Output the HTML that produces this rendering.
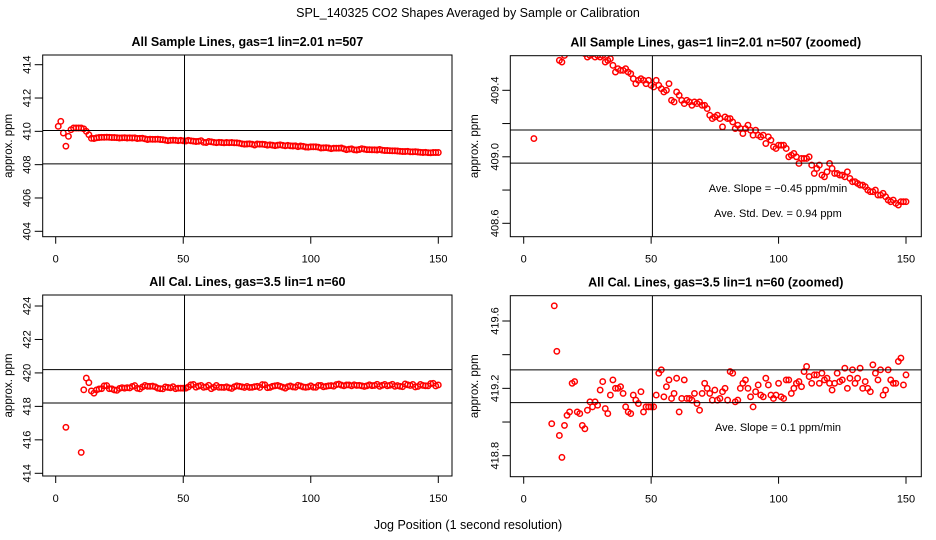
<!DOCTYPE html>
<html><head><meta charset="utf-8"><style>
html,body{margin:0;padding:0;background:#fff;width:936px;height:540px;overflow:hidden;}
svg{display:block;font-family:"Liberation Sans",Arial,sans-serif;}
</style></head><body>
<svg id="chart" width="936" height="540" viewBox="0 0 936 540" xmlns="http://www.w3.org/2000/svg">
<text x="468" y="17" text-anchor="middle" font-size="12.5">SPL_140325  CO2 Shapes Averaged by Sample or Calibration</text>
<text x="468" y="529" text-anchor="middle" font-size="12.5">Jog Position (1 second resolution)</text>
</svg>
<script>
const positions = Array.from({length:150},(_,i)=>i+1);
const sampleValues = [410.3,410.6,409.9,409.11,409.7,410.1,410.2,410.2,410.2,410.2,410.15,410.0,409.8,409.58,409.57,409.61,409.63,409.64,409.64,409.65,409.64,409.63,409.63,409.62,409.60,409.61,409.62,409.60,409.61,409.60,409.61,409.57,409.58,409.59,409.55,409.51,409.53,409.52,409.52,409.53,409.51,409.50,409.47,409.44,409.46,409.47,409.46,409.44,409.46,409.43,409.42,409.46,409.43,409.41,409.39,409.40,409.44,409.34,409.33,409.39,409.37,409.34,409.32,409.34,409.33,409.31,409.33,409.32,409.33,409.31,409.31,409.29,409.25,409.23,409.24,409.25,409.23,409.18,409.24,409.23,409.23,409.21,409.17,409.19,409.17,409.14,409.17,409.19,409.16,409.13,409.16,409.13,409.12,409.13,409.08,409.12,409.10,409.06,409.05,409.07,409.07,409.07,409.05,409.00,409.01,409.02,409.00,408.96,408.99,408.99,408.99,409.00,408.95,408.90,408.93,408.95,408.89,408.88,408.91,408.96,408.93,408.90,408.90,408.89,408.89,408.88,408.91,408.87,408.85,408.85,408.84,408.83,408.83,408.82,408.80,408.79,408.79,408.80,408.77,408.77,408.78,408.76,408.74,408.73,408.74,408.72,408.71,408.73,408.73,408.73];
const calValues = [null,null,null,416.75,null,null,null,null,null,415.25,418.99,419.69,419.42,418.92,418.79,418.98,419.04,419.06,419.23,419.24,419.06,419.05,418.98,418.96,419.07,419.12,419.09,419.12,419.10,419.19,419.24,419.08,419.05,419.16,419.25,419.20,419.20,419.21,419.17,419.09,419.06,419.05,419.16,419.13,419.11,419.18,419.06,419.09,419.09,419.09,419.09,419.16,419.29,419.31,419.15,419.21,419.25,419.14,419.17,419.26,419.06,419.14,419.25,419.14,419.14,419.13,419.17,419.11,419.07,419.17,419.23,419.20,419.17,419.13,419.19,419.13,419.14,419.18,419.20,419.13,419.30,419.29,419.12,419.13,419.20,419.23,419.25,419.20,419.15,419.09,419.18,419.22,419.16,419.15,419.26,419.22,419.16,419.14,419.16,419.23,419.15,419.14,419.25,419.25,419.17,419.20,419.23,419.24,419.21,419.30,419.33,419.27,419.23,419.28,419.28,419.23,419.29,419.25,419.26,419.23,419.19,419.23,419.29,419.24,419.25,419.32,419.20,419.26,419.31,419.23,419.26,419.32,419.20,419.24,419.20,419.18,419.34,419.29,419.25,419.31,419.16,419.19,419.31,419.25,419.23,419.23,419.36,419.38,419.22,419.28];
const xTicks = [0,50,100,150];
const panelTitles = ["All Sample Lines, gas=1 lin=2.01 n=507","All Sample Lines, gas=1 lin=2.01 n=507 (zoomed)","All Cal. Lines, gas=3.5 lin=1 n=60","All Cal. Lines, gas=3.5 lin=1 n=60 (zoomed)"];
const yTicks1 = [404,406,408,410,412,414];
const yTicks2 = [408.6,408.8,409.0,409.2,409.4];
const yTickLabels2 = ["408.6","","409.0","","409.4"];
const yTicks3 = [414,416,418,420,422,424];
const yTicks4 = [418.8,419.0,419.2,419.4,419.6];
const yTickLabels4 = ["418.8","","419.2","","419.6"];
const hLines1 = [410.05,408.05];
const hLines2 = [409.161,408.962];
const hLines3 = [420.2,418.2];
const hLines4 = [419.31,419.115];
const vLineX = 50.5;
const annot2 = ["Ave. Slope =  \u22120.45  ppm/min","Ave. Std. Dev. =  0.94  ppm"];
const annot4 = ["Ave. Slope =  0.1  ppm/min"];

const NS="http://www.w3.org/2000/svg";
const svg=document.getElementById('chart');
function mk(tag,attrs,parent){const e=document.createElementNS(NS,tag);for(const k in attrs)e.setAttribute(k,attrs[k]);(parent||svg).appendChild(e);return e;}

const panels=[
 {name:'sample',box:[42.7,55,452,236.7],xa:[55.7,438.3],ya:[414,64.7,404,231.3],vals:sampleValues,yt:yTicks1,yl:yTicks1.map(String),hl:hLines1,title:panelTitles[0],ann:[],ax:0},
 {name:'sample-zoomed',box:[510.3,55.7,921.3,236.7],xa:[523.7,906],ya:[409.4,90.3,408.6,223.3],vals:sampleValues,yt:yTicks2,yl:yTickLabels2,hl:hLines2,title:panelTitles[1],ann:annot2,annY:[192,217],ax:466},
 {name:'cal',box:[42.7,295,452,476],xa:[55.7,438.3],ya:[424,306,414,473.3],vals:calValues,yt:yTicks3,yl:yTicks3.map(String),hl:hLines3,title:panelTitles[2],ann:[],ax:0},
 {name:'cal-zoomed',box:[510.3,295.7,921.3,476.7],xa:[523.7,906],ya:[419.6,321,418.8,455.7],vals:calValues,yt:yTicks4,yl:yTickLabels4,hl:hLines4,title:panelTitles[3],ann:annot4,annY:[431],ax:466}
];
panels.forEach((p,pi)=>{
 const [l,t,r,b]=p.box;
 const xs=v=>p.xa[0]+(v-0)*(p.xa[1]-p.xa[0])/150;
 const ys=v=>p.ya[1]+(v-p.ya[0])*(p.ya[3]-p.ya[1])/(p.ya[2]-p.ya[0]);
 const g=mk('g',{});
 
 
 const cp=mk('clipPath',{id:'clip'+pi},g);
 mk('rect',{x:l,y:t,width:r-l,height:b-t},cp);
 const tt=mk('text',{x:(l+r)/2,y:t-9,'text-anchor':'middle','font-size':12.5,'font-weight':'bold'},g);
 tt.textContent=p.title;
 
 
 const yl=mk('text',{transform:`translate(${p.ax+12},${(t+b)/2}) rotate(-90)`,'text-anchor':'middle','font-size':11.5},g);
 yl.textContent='approx. ppm';
 
 
 xTicks.forEach(v=>{
  const ln=mk('line',{x1:xs(v),x2:xs(v),y1:b,y2:b+7,stroke:'#000','stroke-width':1},g);
  
  
  const tx=mk('text',{x:xs(v),y:b+26,'text-anchor':'middle','font-size':11},g);
  tx.textContent=String(v);
  
  
 });
 p.yt.forEach((v,i)=>{
  const ln=mk('line',{x1:l-8,x2:l,y1:ys(v),y2:ys(v),stroke:'#000','stroke-width':1},g);
  
  
  if(p.yl[i]){
   const tx=mk('text',{transform:`translate(${l-12},${ys(v)}) rotate(-90)`,'text-anchor':'middle','font-size':11},g);
   tx.textContent=p.yl[i];
   
   
  }
 });
 const pts=mk('g',{'clip-path':`url(#clip${pi})`},g);
 
 
 positions.forEach((x,i)=>{
  const v=p.vals[i];
  if(v===null||v===undefined)return;
  const c=mk('circle',{cx:xs(x),cy:ys(v),r:2.7,fill:'none',stroke:'#f00','stroke-width':1.5},pts);
  
  
 });
 p.hl.forEach(v=>{
  const ln=mk('line',{x1:l,x2:r,y1:ys(v),y2:ys(v),stroke:'#000','stroke-width':1},g);
  
  
 });
 const vl=mk('line',{x1:xs(vLineX),x2:xs(vLineX),y1:t,y2:b,stroke:'#000','stroke-width':1},g);
 
 
 const bx=mk('rect',{x:l,y:t,width:r-l,height:b-t,fill:'none',stroke:'#000','stroke-width':1},g);
 
 
 p.ann.forEach((s,i)=>{
  const tx=mk('text',{x:778,y:p.annY[i],'text-anchor':'middle','font-size':11},g);
  tx.textContent=s;
  
  
 });
});
</script>
</body></html>
